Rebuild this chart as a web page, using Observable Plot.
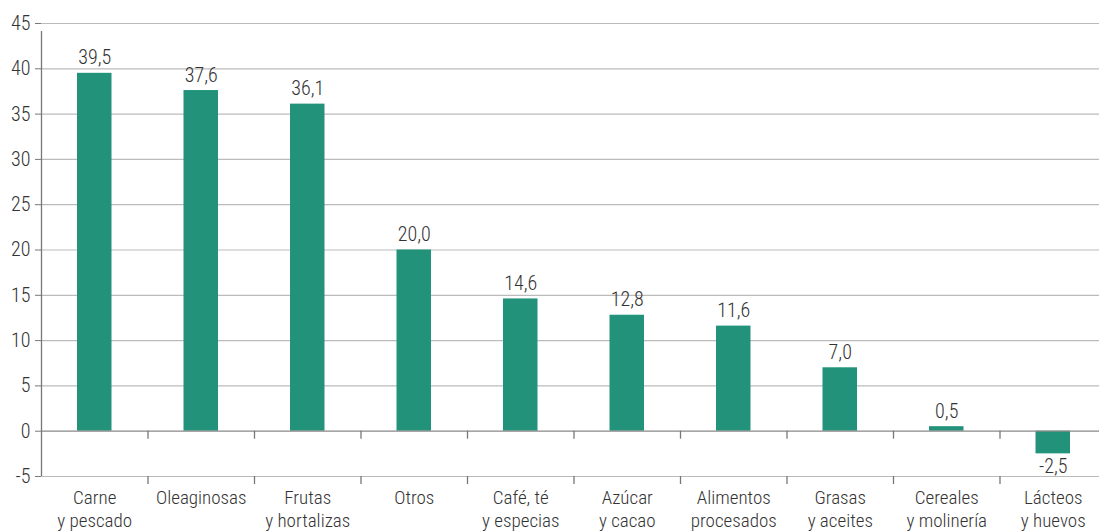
<!DOCTYPE html>
<html>
<head>
<meta charset="utf-8">
<script src="https://cdn.jsdelivr.net/npm/d3@7"></script>
<script src="https://cdn.jsdelivr.net/npm/@observablehq/plot@0.6"></script>
<style>
  html, body { margin: 0; padding: 0; background: #fff; }
  #chart svg { display: block; }
</style>
</head>
<body>
<div id="chart"></div>
<script>
const categories = ["Carne\ny pescado", "Oleaginosas", "Frutas\ny hortalizas", "Otros", "Café, té\ny especias", "Azúcar\ny cacao", "Alimentos\nprocesados", "Grasas\ny aceites", "Cereales\ny molinería", "Lácteos\ny huevos"];
const values = [39.5, 37.6, 36.1, 20.0, 14.6, 12.8, 11.6, 7.0, 0.5, -2.5];
const yTicks = [-5, 0, 5, 10, 15, 20, 25, 30, 35, 40, 45];

const data = categories.map((c, i) => ({category: c, value: values[i]}));
const fmt = v => v.toFixed(1).replace(".", ",");

const W = 1099, H = 532;
const mL = 41, mR = -7, mT = 23, mB = 56;
const bw = (W - mL - mR) / categories.length;
const font = "'Roboto Condensed', 'Liberation Sans Narrow', 'Arial Narrow', 'Roboto', sans-serif";
const green = "#22937a";

const chart = Plot.plot({
  width: W,
  height: H,
  marginLeft: mL,
  marginRight: mR,
  marginTop: mT,
  marginBottom: mB,
  style: {fontFamily: font, color: "#333", background: "#fff", fontWeight: 300},
  x: {domain: categories, padding: 0, round: false},
  y: {domain: [-5, 45]},
  marks: [
    Plot.ruleY(yTicks.filter(d => d !== 0), {stroke: "#bbb", strokeWidth: 1.2}),
    Plot.barY(data, {x: "category", y: "value", fill: green, insetLeft: 36, insetRight: 36}),
    Plot.ruleY([0], {stroke: "#888", strokeWidth: 1.3}),
    Plot.ruleX(categories.slice(1), {y1: 0, y2: 0, insetBottom: -8, dx: -bw / 2, stroke: "#777", strokeWidth: 1.3}),
    Plot.ruleX(categories.slice(1), {y1: -5, y2: -5, insetBottom: -8, dx: -bw / 2, stroke: "#777", strokeWidth: 1.3}),
    Plot.ruleX([categories[0]], {y1: -5, y2: 45, insetBottom: -8, dx: -bw / 2, stroke: "#777", strokeWidth: 1.3}),
    Plot.text(data.filter(d => d.value >= 0), {x: "category", y: "value", text: d => fmt(d.value), lineAnchor: "bottom", dy: -9, fontSize: 20, fill: "#333"}),
    Plot.text(data.filter(d => d.value < 0), {x: "category", y: "value", text: d => fmt(d.value), lineAnchor: "top", dy: 5, fontSize: 20, fill: "#333"}),
    Plot.axisY({ticks: yTicks, tickFormat: d => String(d), tickSize: 6, tickPadding: 5, fontSize: 20, stroke: "#777", label: null}),
    Plot.axisX({tickSize: 0, tickPadding: 12, fontSize: 19, lineAnchor: "top", lineHeight: 1.18, label: null})
  ]
});
document.getElementById("chart").appendChild(chart);
</script>
</body>
</html>
